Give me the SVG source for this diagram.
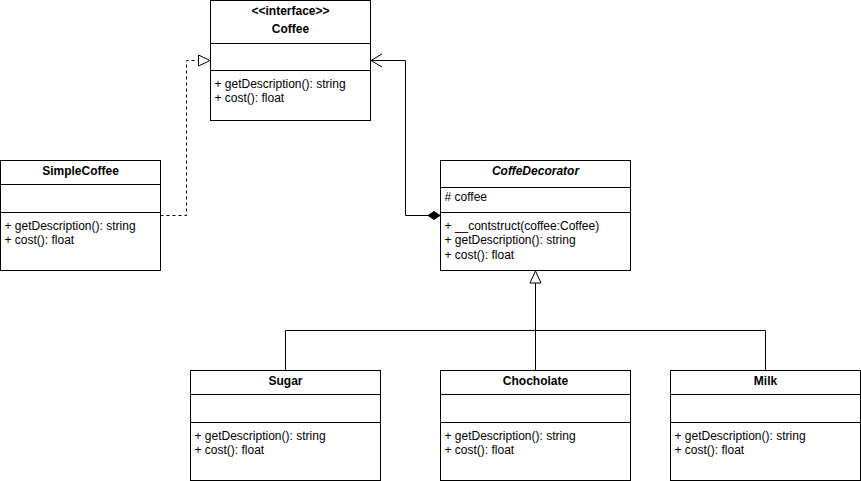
<svg xmlns="http://www.w3.org/2000/svg" width="861" height="481" viewBox="0 0 861 481">
<style>
.box{fill:#fff;stroke:#000;stroke-width:1}
.ln{stroke:#000;stroke-width:1;fill:none}
text{font-family:"Liberation Sans",Arial,sans-serif;font-size:12px;fill:#000}
.t{font-weight:bold;text-anchor:middle}
.i{font-style:italic}
</style>
<rect width="861" height="481" fill="#fff"/>
<g id="connectors">
  <path class="ln" d="M160.5,215.5 H186.5 V60.5 H199" stroke-dasharray="3,3"/>
  <path d="M198.5,55 L210,60.5 L198.5,66 Z" fill="#fff" stroke="#000"/>
  <path class="ln" d="M428,215.5 H405.5 V60.5 H371"/>
  <path class="ln" d="M382,54 L371,60.5 L382,67"/>
  <path d="M428,215.5 L434,211.5 L440,215.5 L434,219.5 Z" fill="#000" stroke="#000"/>
  <path class="ln" d="M535.5,283 V370.5 M285.5,370.5 V330.5 H765.5 V370.5"/>
  <path d="M535.5,271 L541,283 L530,283 Z" fill="#fff" stroke="#000"/>
</g>
<g id="Coffee">
  <rect class="box" x="210.5" y="0.5" width="160" height="120"/>
  <path class="ln" d="M210.5,43.5 H370.5 M210.5,70.5 H370.5"/>
  <text class="t" x="290.5" y="15">&lt;&lt;interface&gt;&gt;</text>
  <text class="t" x="290.5" y="33">Coffee</text>
  <text x="214.5" y="88">+ getDescription(): string</text>
  <text x="214.5" y="102">+ cost(): float</text>
</g>
<g id="SimpleCoffee">
  <rect class="box" x="0.5" y="160.5" width="160" height="110"/>
  <path class="ln" d="M0.5,184.5 H160.5 M0.5,212.5 H160.5"/>
  <text class="t" x="80.5" y="175">SimpleCoffee</text>
  <text x="4.5" y="230">+ getDescription(): string</text>
  <text x="4.5" y="244">+ cost(): float</text>
</g>
<g id="CoffeDecorator">
  <rect class="box" x="440.5" y="160.5" width="190" height="110"/>
  <path class="ln" d="M440.5,187.5 H630.5 M440.5,212.5 H630.5"/>
  <text class="t i" x="535.5" y="175">CoffeDecorator</text>
  <text x="444.5" y="201">#&#160;coffee</text>
  <text x="444.5" y="230">+ __contstruct(coffee:Coffee)</text>
  <text x="444.5" y="244">+ getDescription(): string</text>
  <text x="444.5" y="259">+ cost(): float</text>
</g>
<g id="Sugar">
  <rect class="box" x="190.5" y="370.5" width="190" height="110"/>
  <path class="ln" d="M190.5,394.5 H380.5 M190.5,422.5 H380.5"/>
  <text class="t" x="285.5" y="385">Sugar</text>
  <text x="194.5" y="440">+ getDescription(): string</text>
  <text x="194.5" y="454">+ cost(): float</text>
</g>
<g id="Chocholate">
  <rect class="box" x="440.5" y="370.5" width="190" height="110"/>
  <path class="ln" d="M440.5,394.5 H630.5 M440.5,422.5 H630.5"/>
  <text class="t" x="535.5" y="385">Chocholate</text>
  <text x="444.5" y="440">+ getDescription(): string</text>
  <text x="444.5" y="454">+ cost(): float</text>
</g>
<g id="Milk">
  <rect class="box" x="670.5" y="370.5" width="190" height="110"/>
  <path class="ln" d="M670.5,394.5 H860.5 M670.5,422.5 H860.5"/>
  <text class="t" x="765.5" y="385">Milk</text>
  <text x="674.5" y="440">+ getDescription(): string</text>
  <text x="674.5" y="454">+ cost(): float</text>
</g>
</svg>
